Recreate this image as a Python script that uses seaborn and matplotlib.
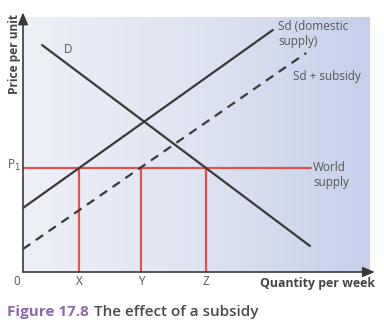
import numpy as np
import pandas as pd
import matplotlib
matplotlib.use("Agg")
import matplotlib.pyplot as plt
from matplotlib.colors import LinearSegmentedColormap
import seaborn as sns

# ---- data (axes 0..10) ----
demand_x = [0.55, 8.27]
demand_y = [8.90, 1.02]
sd_x = [0.0, 7.20]
sd_y = [2.51, 9.49]
sd_sub_x = [0.0, 8.16]
sd_sub_y = [0.90, 8.59]
world_x = [0.0, 8.30]
world_price = 4.08
quantities = [1.62, 3.40, 5.27]
quantity_labels = ["X", "Y", "Z"]

sns.set_theme(style="white")
plt.rcParams["font.family"] = ["Open Sans", "DejaVu Sans"]

DARK = "#3a3a3a"
RED = "#e0524f"
TXT = "#555555"

fig = plt.figure(figsize=(3.84, 3.31), dpi=100)
ax = fig.add_axes([23/384, 59/331, 347/384, 255/331])
ax.set_facecolor("none")

# panel gradient
cmap = LinearSegmentedColormap.from_list("panel", ["#eef0f7", "#dfe4f2", "#c6d0ea"])
grad = np.linspace(0, 1, 256)[None, :]
ax.imshow(grad, extent=[0, 10, 0, 10], aspect="auto", cmap=cmap, zorder=0)

df_d = pd.DataFrame({"x": demand_x, "y": demand_y})
df_s = pd.DataFrame({"x": sd_x, "y": sd_y})
df_ss = pd.DataFrame({"x": sd_sub_x, "y": sd_sub_y})
df_w = pd.DataFrame({"x": world_x, "y": [world_price] * len(world_x)})

sns.lineplot(data=df_d, x="x", y="y", color=DARK, lw=1.6, ax=ax, estimator=None, sort=False, zorder=3)
sns.lineplot(data=df_s, x="x", y="y", color=DARK, lw=1.6, ax=ax, estimator=None, sort=False, zorder=3)
sns.lineplot(data=df_ss, x="x", y="y", color=DARK, lw=1.6, ax=ax, estimator=None, sort=False, zorder=3)
ax.lines[-1].set_dashes([4, 3])
sns.lineplot(data=df_w, x="x", y="y", color=RED, lw=1.6, ax=ax, estimator=None, sort=False, zorder=2)
ax.vlines(quantities, 0, world_price, color=RED, lw=1.6, zorder=2)

ax.set_xlim(0, 10)
ax.set_ylim(0, 10)
ax.set_xticks([])
ax.set_yticks([])
ax.set_xlabel("")
ax.set_ylabel("")
for s in ax.spines.values():
    s.set_visible(False)

# axes arrows
arrow = dict(arrowstyle="-|>,head_length=0.6,head_width=0.25", color=DARK, lw=1.2, shrinkA=0, shrinkB=0)
ax.annotate("", xy=(0, 10.18), xytext=(0, 0), arrowprops=arrow, annotation_clip=False)
ax.annotate("", xy=(10.14, 0), xytext=(0, 0), arrowprops=arrow, annotation_clip=False)

fs = 8.5
ax.text(1.30, 8.71, "D", color=TXT, fontsize=fs, ha="center", va="center")
ax.text(7.35, 9.35, "Sd (domestic\nsupply)", color=TXT, fontsize=fs, ha="left", va="center", linespacing=1.2)
ax.text(7.78, 7.65, "Sd + subsidy", color=TXT, fontsize=fs, ha="left", va="center")
ax.text(8.36, 3.80, "World\nsupply", color=TXT, fontsize=fs, ha="left", va="center", linespacing=1.2)
ax.text(-0.06, 4.16, "P$_1$", color=TXT, fontsize=fs, ha="right", va="center", clip_on=False)
ax.text(-0.17, -0.36, "0", color=TXT, fontsize=fs, ha="center", va="center", clip_on=False)
for q, lab in zip(quantities, quantity_labels):
    ax.text(q, -0.36, lab, color=TXT, fontsize=fs, ha="center", va="center", clip_on=False)
ax.text(10.14, -0.47, "Quantity per week", color="#444444", fontsize=8.9, fontweight="bold",
        ha="right", va="center", clip_on=False)
ax.text(-0.25, 8.55, "Price per unit", color="#444444", fontsize=8.6, fontweight="bold",
        ha="center", va="center", rotation=90, clip_on=False)

fig.text(7/384, 1 - 312/331, "Figure 17.8", color="#8a6aaa", fontsize=11, fontweight="bold", va="center", ha="left")
fig.text(94/384, 1 - 312/331, "The effect of a subsidy", color="#4a4a4a", fontsize=11, fontweight="semibold", va="center", ha="left")

fig.savefig("out.png", dpi=100)
